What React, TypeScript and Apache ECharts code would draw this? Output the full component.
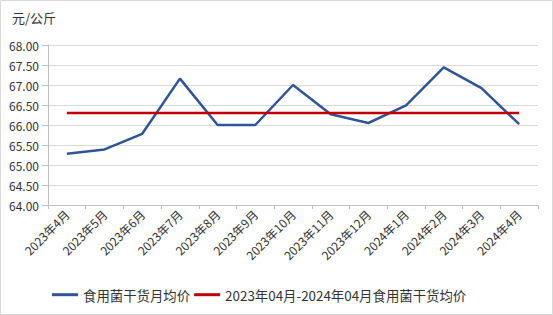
import React, { useEffect, useRef } from "react";
import * as echarts from "echarts";

const categories = [
  "2023年4月", "2023年5月", "2023年6月", "2023年7月", "2023年8月", "2023年9月",
  "2023年10月", "2023年11月", "2023年12月", "2024年1月", "2024年2月", "2024年3月", "2024年4月",
];
const monthlyAvg = [65.28, 65.39, 65.78, 67.16, 66.0, 66.0, 67.0, 66.27, 66.05, 66.49, 67.44, 66.92, 66.02];
const overallAvg = categories.map(() => 66.3);
const seriesNames = ["食用菌干货月均价", "2023年04月-2024年04月食用菌干货均价"];
const yUnit = "元/公斤";

const FONT = "'Noto Sans CJK SC', 'Noto Sans', sans-serif";

export default function App() {
  const ref = useRef<HTMLDivElement>(null);
  useEffect(() => {
    const chart = echarts.init(ref.current!, null, { renderer: "svg" });
    chart.setOption({
      animation: false,
      backgroundColor: "#fff",
      textStyle: { fontFamily: FONT },
      graphic: [
        {
          type: "rect",
          shape: { x: 0.5, y: 0.5, width: 552, height: 314 },
          style: { fill: "none", stroke: "#D9D9D9", lineWidth: 1 },
          silent: true,
        },
        {
          type: "text",
          left: 12,
          top: 11,
          style: { text: yUnit, fontSize: 13, fill: "#333", fontFamily: FONT },
        },
      ],
      grid: { left: 48, right: 15, top: 45, bottom: 110, containLabel: false },
      legend: {
        left: 47,
        top: 283,
        itemWidth: 26,
        itemHeight: 3,
        itemGap: 4,
        icon: "rect",
        textStyle: { fontSize: 13.4, color: "#333", fontFamily: FONT },
        data: seriesNames,
      },
      xAxis: {
        type: "category",
        data: categories,
        boundaryGap: true,
        axisLine: { show: true, lineStyle: { color: "#BFBFBF", width: 1 } },
        axisTick: { show: true, length: 4, alignWithLabel: false, lineStyle: { color: "#BFBFBF" } },
        axisLabel: {
          rotate: 45,
          interval: 0,
          margin: 7,
          fontSize: 12,
          color: "#333",
          fontFamily: FONT,
        },
        splitLine: { show: false },
      },
      yAxis: {
        type: "value",
        min: 64,
        max: 68,
        interval: 0.5,
        axisLine: { show: true, lineStyle: { color: "#BFBFBF", width: 1 } },
        axisTick: { show: true, length: 6, lineStyle: { color: "#BFBFBF" } },
        axisLabel: {
          formatter: (v: number) => v.toFixed(2),
          fontSize: 12,
          color: "#333",
          margin: 9,
          fontFamily: FONT,
        },
        splitLine: { show: true, lineStyle: { color: "#D9D9D9", width: 1 } },
      },
      series: [
        {
          name: seriesNames[0],
          type: "line",
          data: monthlyAvg,
          showSymbol: false,
          symbol: "none",
          color: "#2F5597",
          lineStyle: { color: "#2F5597", width: 2.5 },
        },
        {
          name: seriesNames[1],
          type: "line",
          data: overallAvg,
          showSymbol: false,
          symbol: "none",
          color: "#C00000",
          lineStyle: { color: "#C00000", width: 2.5 },
        },
      ],
    });
    return () => chart.dispose();
  }, []);
  return (
    <div
      ref={ref}
      style={{ position: "fixed", left: 0, top: 0, width: 553, height: 315 }}
    />
  );
}
